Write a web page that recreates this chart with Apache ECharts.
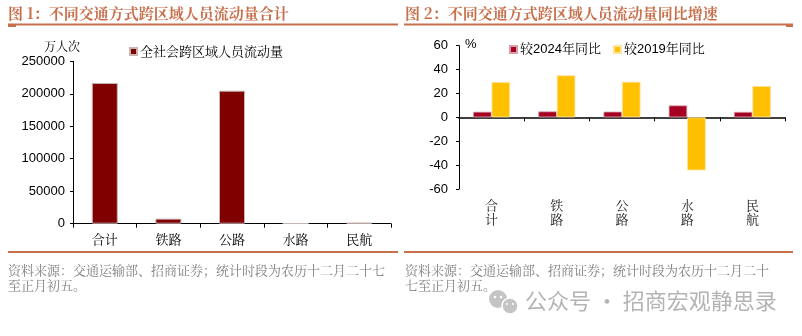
<!DOCTYPE html>
<html>
<head>
<meta charset="utf-8">
<script src="https://cdn.jsdelivr.net/npm/echarts@6/dist/echarts.min.js"></script>
<style>
  html, body { margin: 0; padding: 0; background: #fff; }
  #chart { width: 802px; height: 336px; }
</style>
</head>
<body>
<div id="chart"></div>
<script>
// Cross-region passenger flow by transport mode (万人次)
const modes = ['合计', '铁路', '公路', '水路', '民航'];
const flowTotal = [216600, 7800, 204800, 500, 1500];
const flowTicks = [0, 50000, 100000, 150000, 200000, 250000];

// Year-on-year growth by transport mode (%)
const growthVs2024 = [4.7, 5.0, 4.8, 10.0, 4.6];
const growthVs2019 = [29.6, 35.2, 29.8, -44.4, 26.2];
const growthTicks = [-60, -40, -20, 0, 20, 40, 60];

const CJK = '"Noto Serif CJK SC", "Noto Sans CJK SC", serif';
const NUM = 'Arial, "Liberation Sans", sans-serif';
const MIXED = 'Arial, "Liberation Sans", "Noto Serif CJK SC", "Noto Sans CJK SC", sans-serif';
const ACCENT = '#c8704c';
const NOTE = '资料来源：交通运输部、招商证券；统计时段为农历十二月二十七至正月初五。';

const chart = echarts.init(document.getElementById('chart'), null, { renderer: 'canvas' });

function headerLines(x1, x2) {
  return [
    { type: 'line', shape: { x1: x1, y1: 24.5, x2: x2, y2: 24.5 }, style: { stroke: ACCENT, lineWidth: 2 }, silent: true },
    { type: 'line', shape: { x1: x2, y1: 252, x2: x1, y2: 252 }, style: { stroke: ACCENT, lineWidth: 2 }, silent: true }
  ];
}

const graphics = [].concat(
  headerLines(8, 398),
  headerLines(404, 793),
  [
    { type: 'rect', shape: { x: 8, y: 24, width: 8, height: 3 }, style: { fill: ACCENT }, silent: true },
    { type: 'rect', shape: { x: 786, y: 24, width: 7, height: 3 }, style: { fill: ACCENT }, silent: true },
    { type: 'text', left: 8, top: 6, style: { text: '图 1：不同交通方式跨区域人员流动量合计', font: 'bold 15px ' + CJK, fill: ACCENT } },
    { type: 'text', left: 405, top: 6, style: { text: '图 2：不同交通方式跨区域人员流动量同比增速', font: 'bold 15px ' + CJK, fill: ACCENT } },
    { type: 'text', left: 44, top: 40, style: { text: '万人次', font: '12px ' + CJK, fill: '#000' } },
    { type: 'text', left: 465, top: 38, style: { text: '%', font: '13px ' + NUM, fill: '#000' } },
    { type: 'text', left: 8, top: 263, style: { text: NOTE.slice(0, 29) + '\n' + NOTE.slice(29), font: '13px ' + CJK, fill: '#808080', lineHeight: 15 } },
    { type: 'text', left: 405, top: 263, style: { text: NOTE.slice(0, 28) + '\n' + NOTE.slice(28), font: '13px ' + CJK, fill: '#808080', lineHeight: 15 } },
    // WeChat-style bubble icon
    { type: 'circle', shape: { cx: 498, cy: 299, r: 9 }, style: { fill: '#c4c4c4' }, silent: true },
    { type: 'circle', shape: { cx: 510, cy: 306, r: 8 }, style: { fill: '#c4c4c4', stroke: '#fff', lineWidth: 1.5 }, silent: true },
    { type: 'circle', shape: { cx: 495, cy: 297, r: 1.3 }, style: { fill: '#fff' }, silent: true },
    { type: 'circle', shape: { cx: 501, cy: 297, r: 1.3 }, style: { fill: '#fff' }, silent: true },
    { type: 'circle', shape: { cx: 507, cy: 304, r: 1.1 }, style: { fill: '#fff' }, silent: true },
    { type: 'circle', shape: { cx: 513, cy: 304, r: 1.1 }, style: { fill: '#fff' }, silent: true },
    { type: 'text', left: 525, top: 290, style: { text: '公众号 · 招商宏观静思录', font: '22px "Noto Sans CJK SC", sans-serif', fill: '#b4b4b4' } }
  ]
);

const axisLineStyle = { show: true, lineStyle: { color: '#000', width: 1 } };

chart.setOption({
  animation: false,
  backgroundColor: '#fff',
  textStyle: { fontFamily: CJK },
  graphic: graphics,
  legend: [
    {
      data: ['全社会跨区域人员流动量'],
      left: 124, top: 40,
      itemWidth: 7, itemHeight: 7, itemGap: 10,
      icon: 'rect',
      textStyle: { fontSize: 13, fontFamily: CJK, color: '#000', padding: [0, 0, 0, -2] }
    },
    {
      data: ['较2024年同比', '较2019年同比'],
      left: 504, top: 38,
      itemWidth: 7, itemHeight: 7, itemGap: 12,
      icon: 'rect',
      textStyle: { fontSize: 13, fontFamily: MIXED, color: '#000', padding: [0, 0, 0, -2] }
    }
  ],
  grid: [
    { left: 73, top: 61.3, width: 318, height: 162.4 },
    { left: 459, top: 45.7, width: 326, height: 143.3 }
  ],
  xAxis: [
    {
      gridIndex: 0, type: 'category', data: modes,
      axisLine: axisLineStyle,
      axisTick: { show: true, length: 4, lineStyle: { color: '#000' } },
      axisLabel: { fontSize: 13, fontFamily: CJK, color: '#000', margin: 9 }
    },
    {
      gridIndex: 1, type: 'category', data: modes,
      axisLine: { show: true, onZero: true, lineStyle: { color: '#000', width: 1.5 } },
      axisTick: { show: true, length: 4, lineStyle: { color: '#000' } },
      axisLabel: { show: false }
    },
    {
      gridIndex: 1, type: 'category', data: modes, position: 'bottom',
      axisLine: { show: false, onZero: false },
      axisTick: { show: false },
      axisLabel: {
        fontSize: 13, fontFamily: CJK, color: '#1a1a1a', margin: 9, lineHeight: 14,
        formatter: v => v.split('').join('\n')
      }
    }
  ],
  yAxis: [
    {
      gridIndex: 0, type: 'value', min: flowTicks[0], max: flowTicks[flowTicks.length - 1],
      interval: flowTicks[1] - flowTicks[0],
      axisLine: axisLineStyle,
      axisTick: { show: true, length: 3, lineStyle: { color: '#000' } },
      splitLine: { show: false },
      axisLabel: { fontSize: 13, fontFamily: NUM, color: '#000', margin: 8, formatter: v => String(v) }
    },
    {
      gridIndex: 1, type: 'value', min: growthTicks[0], max: growthTicks[growthTicks.length - 1],
      interval: growthTicks[1] - growthTicks[0],
      axisLine: axisLineStyle,
      axisTick: { show: true, length: 3, lineStyle: { color: '#000' } },
      splitLine: { show: false },
      axisLabel: { fontSize: 13, fontFamily: NUM, color: '#000', margin: 11, formatter: v => String(v) }
    }
  ],
  series: [
    {
      name: '全社会跨区域人员流动量', type: 'bar',
      xAxisIndex: 0, yAxisIndex: 0,
      data: flowTotal, barWidth: 26,
      itemStyle: { color: '#800000', borderColor: '#c9b3b3', borderWidth: 1 }
    },
    {
      name: '较2024年同比', type: 'bar',
      xAxisIndex: 1, yAxisIndex: 1,
      data: growthVs2024, barWidth: 18.5, barGap: '0%',
      itemStyle: { color: '#A50021', borderColor: '#d9a0aa', borderWidth: 0.8 }
    },
    {
      name: '较2019年同比', type: 'bar',
      xAxisIndex: 1, yAxisIndex: 1,
      data: growthVs2019, barWidth: 18.5, barGap: '0%',
      itemStyle: { color: '#FFC000', borderColor: '#ffe2a0', borderWidth: 0.8 }
    }
  ]
});
</script>
</body>
</html>
